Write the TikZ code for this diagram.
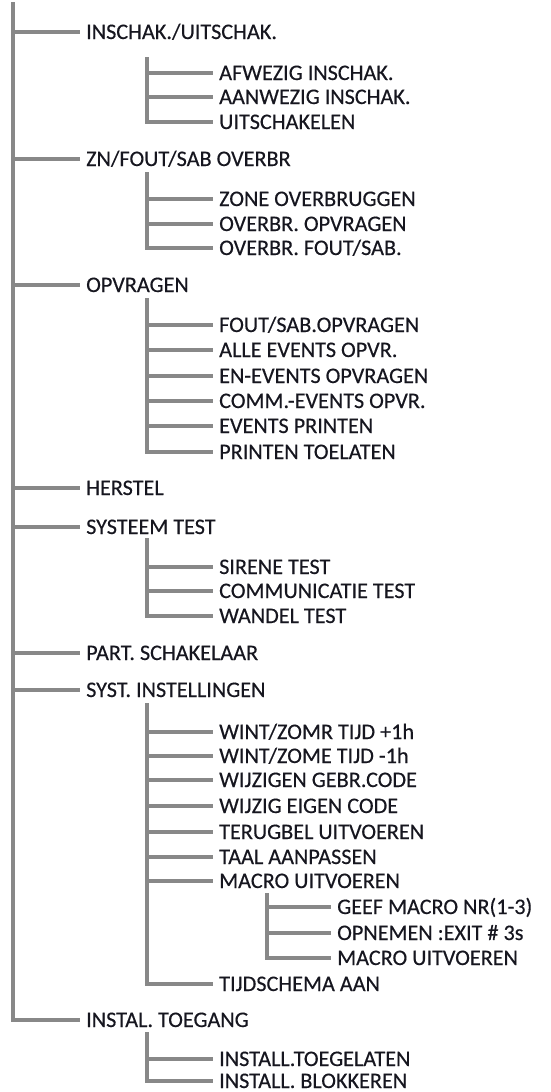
\documentclass[tikz,border=0pt]{standalone}
\usepackage{fontspec}
\setmainfont{Carlito}[UprightFeatures={FakeBold=0.35}]
\definecolor{txt}{HTML}{16161F}
\definecolor{lin}{HTML}{888888}
\begin{document}
\begin{tikzpicture}[x=1pt,y=-1pt,
  lbl/.style={anchor=west, inner sep=0pt, text height=14pt, text depth=0pt, text=txt, font=\fontsize{22.2}{22}\selectfont},
  br/.style={draw=lin, line width=4pt, line join=miter},
  sp/.style={draw=lin, line width=4.2pt, line join=miter}]
\useasboundingbox (0,0) rectangle (550,1092);
\coordinate (xa) at (13,0);
\coordinate (xb) at (147,0);
\coordinate (xc) at (267,0);
\coordinate (top) at (13,2);
% level 1
\node[lbl] (a1) at (86,32) {INSCHAK./UITSCHAK.};
\node[lbl] (a2) at (86,159) {ZN/FOUT/SAB OVERBR};
\node[lbl] (a3) at (86,285) {OPVRAGEN};
\node[lbl] (a4) at (86,488) {HERSTEL};
\node[lbl] (a5) at (86,527) {SYSTEEM TEST};
\node[lbl] (a6) at (86,653) {PART. SCHAKELAAR};
\node[lbl] (a7) at (86,690) {SYST. INSTELLINGEN};
\node[lbl] (a8) at (86,1020) {INSTAL. TOEGANG};
% level 2
\node[lbl] (b11) at (219,73) {AFWEZIG INSCHAK.};
\node[lbl] (b12) at (219,97) {AANWEZIG INSCHAK.};
\node[lbl] (b13) at (219,122) {UITSCHAKELEN};
\node[lbl] (b21) at (219,199) {ZONE OVERBRUGGEN};
\node[lbl] (b22) at (219,224) {OVERBR. OPVRAGEN};
\node[lbl] (b23) at (219,248) {OVERBR. FOUT/SAB.};
\node[lbl] (b31) at (219,325) {FOUT/SAB.OPVRAGEN};
\node[lbl] (b32) at (219,350) {ALLE EVENTS OPVR.};
\node[lbl] (b33) at (219,376) {EN-EVENTS OPVRAGEN};
\node[lbl] (b34) at (219,401) {COMM.-EVENTS OPVR.};
\node[lbl] (b35) at (219,426) {EVENTS PRINTEN};
\node[lbl] (b36) at (219,452) {PRINTEN TOELATEN};
\node[lbl] (b51) at (219,567) {SIRENE TEST};
\node[lbl] (b52) at (219,591) {COMMUNICATIE TEST};
\node[lbl] (b53) at (219,616) {WANDEL TEST};
\node[lbl] (b71) at (219,732) {WINT/ZOMR TIJD +1h};
\node[lbl] (b72) at (219,756) {WINT/ZOME TIJD -1h};
\node[lbl] (b73) at (219,780) {WIJZIGEN GEBR.CODE};
\node[lbl] (b74) at (219,806) {WIJZIG EIGEN CODE};
\node[lbl] (b75) at (219,832) {TERUGBEL UITVOEREN};
\node[lbl] (b76) at (219,857) {TAAL AANPASSEN};
\node[lbl] (b77) at (219,881) {MACRO UITVOEREN};
\node[lbl] (b78) at (219,984) {TIJDSCHEMA AAN};
\node[lbl] (b81) at (219,1059) {INSTALL.TOEGELATEN};
\node[lbl] (b82) at (219,1081) {INSTALL. BLOKKEREN};
% level 3
\node[lbl] (c1) at (337,907) {GEEF MACRO NR(1-3)};
\node[lbl] (c2) at (337,933) {OPNEMEN :EXIT \# 3s};
\node[lbl] (c3) at (337,958) {MACRO UITVOEREN};
% main spine
\draw[sp] (top) -- (a8.west -| xa) -- ([xshift=-6pt]a8.west);
\foreach \n in {a1,a2,a3,a4,a5,a6,a7}
  \draw[br] (\n.west -| xa) -- ([xshift=-6pt]\n.west);
% sub spines
\draw[sp] ([yshift=-18pt]a1.south -| xb) -- (b13.west -| xb) -- ([xshift=-6pt]b13.west);
\foreach \n in {b11,b12} \draw[br] (\n.west -| xb) -- ([xshift=-6pt]\n.west);
\draw[sp] ([yshift=-6pt]a2.south -| xb) -- (b23.west -| xb) -- ([xshift=-6pt]b23.west);
\foreach \n in {b21,b22} \draw[br] (\n.west -| xb) -- ([xshift=-6pt]\n.west);
\draw[sp] ([yshift=-6pt]a3.south -| xb) -- (b36.west -| xb) -- ([xshift=-6pt]b36.west);
\foreach \n in {b31,b32,b33,b34,b35} \draw[br] (\n.west -| xb) -- ([xshift=-6pt]\n.west);
\draw[sp] ([yshift=-4pt]a5.south -| xb) -- (b53.west -| xb) -- ([xshift=-6pt]b53.west);
\foreach \n in {b51,b52} \draw[br] (\n.west -| xb) -- ([xshift=-6pt]\n.west);
\draw[sp] ([yshift=-6pt]a7.south -| xb) -- (b78.west -| xb) -- ([xshift=-6pt]b78.west);
\foreach \n in {b71,b72,b73,b74,b75,b76,b77} \draw[br] (\n.west -| xb) -- ([xshift=-6pt]\n.west);
\draw[sp] ([yshift=-5pt]a8.south -| xb) -- (b82.west -| xb) -- ([xshift=-6pt]b82.west);
\draw[br] (b81.west -| xb) -- ([xshift=-6pt]b81.west);
\draw[sp] ([yshift=-5pt]b77.south -| xc) -- (c3.west -| xc) -- ([xshift=-6pt]c3.west);
\foreach \n in {c1,c2} \draw[br] (\n.west -| xc) -- ([xshift=-6pt]\n.west);
\end{tikzpicture}
\end{document}
